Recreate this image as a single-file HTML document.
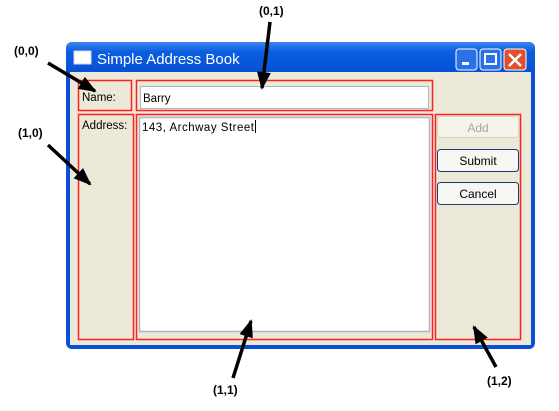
<!DOCTYPE html>
<html><head><style>
body{margin:0;background:#fff;width:559px;height:406px;overflow:hidden;font-family:"Liberation Sans",sans-serif}
</style></head><body>
<svg width="559" height="406" xmlns="http://www.w3.org/2000/svg" font-family="Liberation Sans, sans-serif">
<defs>
<linearGradient id="tb" x1="0" y1="0" x2="0" y2="1">
<stop offset="0" stop-color="#3d86f0"/><stop offset="0.3" stop-color="#0a5ee0"/><stop offset="1" stop-color="#0650d6"/></linearGradient>
<marker id="ah" markerUnits="userSpaceOnUse" markerWidth="18" markerHeight="14" refX="16" refY="7" orient="auto"><path d="M0,0 L18,7 L0,14 z" fill="#000"/></marker>
</defs>
<rect x="66" y="42" width="469" height="307" rx="6" fill="#0a4fd8"/>
<rect x="66" y="42" width="469" height="32" rx="6" fill="url(#tb)"/>
<rect x="70" y="72" width="461" height="273" fill="#ece9d8"/>
<rect x="74" y="51" width="17" height="13" fill="#fff" stroke="#c8d8f0"/>
<text x="97" y="64" font-size="15" fill="#fff">Simple Address Book</text>
<rect x="456" y="49" width="21" height="21" rx="3" fill="#2a70ea" stroke="#fff"/>
<rect x="462" y="62" width="7" height="3" fill="#fff"/>
<rect x="480" y="49" width="21" height="21" rx="3" fill="#2a70ea" stroke="#fff"/>
<rect x="485" y="54" width="11" height="10" fill="none" stroke="#fff" stroke-width="2"/>
<rect x="504" y="49" width="22" height="21" rx="3" fill="#e0502c" stroke="#fff"/>
<path d="M509,54 L521,66 M521,54 L509,66" stroke="#fff" stroke-width="2.5"/>
<text x="82" y="101" font-size="11.5" fill="#000">Name:</text>
<text x="82" y="129" font-size="11.5" fill="#000">Address:</text>
<rect x="140.5" y="86.5" width="288" height="22" fill="#fff" stroke="#a8b8c8"/>
<text x="143" y="102" font-size="11.5">Barry</text>
<rect x="139.5" y="117.5" width="290" height="214" fill="#fff" stroke="#a8b8c8" stroke-width="1.5"/>
<text x="142" y="131" font-size="11.5" textLength="112">143, Archway Street</text>
<line x1="255.5" y1="120" x2="255.5" y2="133" stroke="#000"/>
<rect x="437.5" y="116.5" width="81" height="21" rx="3" fill="#f5f4ea" stroke="#d8d6c8"/>
<text x="478" y="132" font-size="12" fill="#aca899" text-anchor="middle">Add</text>
<rect x="437.5" y="149.5" width="81" height="22" rx="3" fill="#f6f6f2" stroke="#1c3a70"/>
<text x="478" y="165" font-size="12" text-anchor="middle">Submit</text>
<rect x="437.5" y="182.5" width="81" height="22" rx="3" fill="#f6f6f2" stroke="#1c3a70"/>
<text x="478" y="198" font-size="12" text-anchor="middle">Cancel</text>
<g fill="none" stroke="#ff2020" stroke-width="1.5">
<rect x="78.5" y="80.5" width="53" height="30"/>
<rect x="136.5" y="80.5" width="296" height="30"/>
<rect x="78.5" y="114.5" width="55" height="225"/>
<rect x="136.5" y="114.5" width="296" height="225"/>
<rect x="435.5" y="114.5" width="85" height="225"/>
</g>
<g stroke="#000" stroke-width="3.5" marker-end="url(#ah)">
<line x1="270" y1="22" x2="262" y2="88"/>
<line x1="48" y1="63" x2="95" y2="91"/>
<line x1="48" y1="145" x2="90" y2="184"/>
<line x1="233" y1="378" x2="251" y2="321"/>
<line x1="496" y1="367" x2="474" y2="327"/>
</g>
<g font-size="12" font-weight="bold" fill="#000">
<text x="259" y="15">(0,1)</text>
<text x="14" y="55">(0,0)</text>
<text x="18" y="137">(1,0)</text>
<text x="213" y="394">(1,1)</text>
<text x="487" y="385">(1,2)</text>
</g>
</svg>
</body></html>
